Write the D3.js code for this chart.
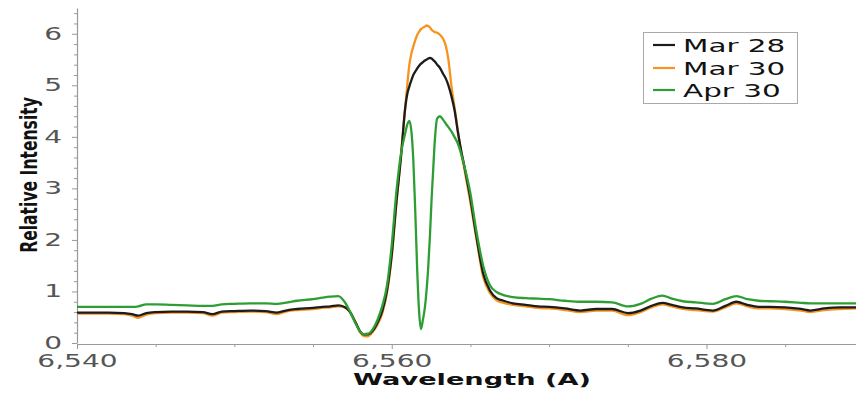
<!DOCTYPE html>
<html>
<head>
<meta charset="utf-8">
<script src="https://cdn.jsdelivr.net/npm/d3@7"></script>
<style>
  html, body { margin: 0; padding: 0; background: #fff; }
  svg { display: block; }
</style>
</head>
<body>
<svg id="chart" width="856" height="394"></svg>
<script>
// H-alpha profile, wavelength in Angstrom, shared sampling grid
const wavelength = [
  6540, 6541, 6542, 6543, 6543.5, 6543.9, 6544.4, 6545, 6546, 6547, 6548, 6548.6, 6549.2,
  6550, 6551, 6552, 6552.7, 6553.4, 6554, 6555, 6555.6, 6556.1, 6556.6, 6557.0, 6557.3,
  6557.7, 6558.0, 6558.2, 6558.5, 6558.8, 6559.1, 6559.4, 6559.7, 6560.0, 6560.3, 6560.6,
  6560.84, 6561.0, 6561.12, 6561.25, 6561.37, 6561.5, 6561.62, 6561.74, 6561.86, 6561.98,
  6562.11, 6562.22, 6562.32, 6562.43, 6562.53, 6562.64, 6562.74, 6562.89, 6563.06, 6563.27,
  6563.45, 6563.6, 6563.8, 6564.0, 6564.2, 6564.4, 6564.6, 6564.97, 6565.39, 6565.81,
  6566.24, 6566.66, 6567.1, 6567.7, 6568.5, 6569.3, 6570, 6571, 6572, 6573, 6574, 6575,
  6575.8, 6576.5, 6577.2, 6577.8, 6578.5, 6579.3, 6580.4, 6581.2, 6581.9, 6582.6, 6583.3,
  6584, 6585, 6586, 6586.6, 6587.5, 6588.5, 6589.5
];

const mar28 = [
  0.59, 0.59, 0.59, 0.58, 0.56, 0.53, 0.58, 0.60, 0.61, 0.61, 0.60, 0.56, 0.61,
  0.62, 0.63, 0.62, 0.59, 0.64, 0.66, 0.68, 0.70, 0.71, 0.73, 0.70, 0.62,
  0.40, 0.22, 0.17, 0.17, 0.24, 0.40, 0.62, 1.02, 1.72, 2.75, 3.65,
  4.52, 4.85, 4.98, 5.10, 5.20, 5.27, 5.33, 5.38, 5.42, 5.45,
  5.48, 5.50, 5.52, 5.53, 5.52, 5.49, 5.46, 5.40, 5.34, 5.22,
  5.12, 5.00, 4.78, 4.50, 4.10, 3.75, 3.45, 2.85, 2.05, 1.35,
  1.02, 0.87, 0.82, 0.77, 0.74, 0.71, 0.70, 0.67, 0.63, 0.66, 0.66, 0.58,
  0.63, 0.72, 0.78, 0.74, 0.69, 0.67, 0.63, 0.72, 0.80, 0.74, 0.70,
  0.70, 0.69, 0.66, 0.63, 0.67, 0.69, 0.69
];

const mar30 = [
  0.57, 0.57, 0.57, 0.56, 0.53, 0.49, 0.55, 0.58, 0.59, 0.59, 0.58, 0.53, 0.59,
  0.60, 0.61, 0.60, 0.56, 0.62, 0.64, 0.66, 0.68, 0.69, 0.71, 0.69, 0.62,
  0.40, 0.20, 0.14, 0.13, 0.22, 0.36, 0.58, 0.98, 1.68, 2.72, 3.70,
  4.52, 5.05, 5.40, 5.62, 5.75, 5.88, 5.98, 6.04, 6.09, 6.12,
  6.14, 6.16, 6.15, 6.12, 6.08, 6.05, 6.03, 6.02, 5.98, 5.90,
  5.75, 5.50, 4.97, 4.55, 4.12, 3.72, 3.40, 2.78, 2.00, 1.28,
  0.97, 0.83, 0.78, 0.74, 0.71, 0.68, 0.67, 0.64, 0.60, 0.63, 0.63, 0.54,
  0.60, 0.69, 0.75, 0.71, 0.66, 0.64, 0.61, 0.69, 0.77, 0.71, 0.67,
  0.67, 0.66, 0.63, 0.60, 0.64, 0.66, 0.67
];

const apr30 = [
  0.70, 0.70, 0.70, 0.70, 0.70, 0.71, 0.75, 0.75, 0.74, 0.73, 0.72, 0.72, 0.75,
  0.76, 0.77, 0.77, 0.76, 0.79, 0.82, 0.85, 0.88, 0.90, 0.91, 0.80, 0.64,
  0.38, 0.22, 0.17, 0.18, 0.27, 0.45, 0.72, 1.12, 1.90, 2.95, 3.70,
  4.05, 4.25, 4.31, 4.10, 3.55, 2.50, 1.40, 0.60, 0.27, 0.45,
  0.70, 1.05, 1.48, 2.10, 2.78, 3.40, 3.94, 4.36, 4.40, 4.33,
  4.25, 4.19, 4.10, 3.99, 3.87, 3.68, 3.45, 2.95, 2.15, 1.50,
  1.12, 0.99, 0.93, 0.89, 0.87, 0.86, 0.85, 0.82, 0.80, 0.80, 0.79, 0.71,
  0.76, 0.86, 0.92, 0.86, 0.81, 0.79, 0.76, 0.85, 0.91, 0.85, 0.82,
  0.81, 0.80, 0.78, 0.77, 0.77, 0.77, 0.77
];

const seriesNames = ["Mar 28", "Mar 30", "Apr 30"];
const seriesColors = ["#1c1c1c", "#f7931e", "#2e9e34"];
const yTicks = [0, 1, 2, 3, 4, 5, 6];
const xTicks = [6540, 6560, 6580];

const svg = d3.select("#chart");
const plotLeft = 77, plotRight = 856, plotTop = 8, plotBottom = 343;

const x = d3.scaleLinear().domain([6540, 6589.5]).range([plotLeft, plotRight]);
const y = d3.scaleLinear().domain([0, 6.5]).range([plotBottom, plotTop]);

const SX = 1.65; // wide lettering used throughout

svg.append("defs").append("clipPath").attr("id", "plot")
  .append("rect").attr("x", plotLeft).attr("y", 0)
  .attr("width", plotRight - plotLeft).attr("height", plotBottom + 1);

// minor ticks
const yMinor = d3.range(0, 6.41, 0.2).filter(v => Math.abs(v - Math.round(v)) > 1e-6);
const xMinor = d3.range(6540, 6590, 5).filter(v => v % 20 !== 0);

svg.append("g").attr("transform", `translate(${plotLeft},0)`)
  .call(d3.axisLeft(y).tickValues(yMinor).tickSize(3).tickFormat(""))
  .call(g => g.select(".domain").remove())
  .selectAll("line").attr("stroke", "#999");

svg.append("g").attr("transform", `translate(0,${plotBottom + 1})`)
  .call(d3.axisBottom(x).tickValues(xMinor).tickSize(3).tickFormat(""))
  .call(g => g.select(".domain").remove())
  .selectAll("line").attr("stroke", "#999");

// major y axis
const gy = svg.append("g").attr("transform", `translate(${plotLeft},0)`)
  .call(d3.axisLeft(y).tickValues(yTicks).tickSize(5).tickSizeOuter(0).tickFormat(d3.format("d")));
gy.select(".domain").attr("stroke", "#999").attr("stroke-width", 1.2);
gy.selectAll(".tick line").attr("stroke", "#999");
gy.selectAll(".tick text")
  .attr("font-family", "DejaVu Sans")
  .attr("font-size", 17)
  .attr("fill", "#555")
  .attr("x", -9)
  .attr("transform", `scale(${SX},1)`);

// major x axis
const gx = svg.append("g").attr("transform", `translate(0,${plotBottom + 1})`)
  .call(d3.axisBottom(x).tickValues(xTicks).tickSize(5).tickSizeOuter(0).tickFormat(d3.format(",")));
gx.select(".domain").attr("stroke", "#999").attr("stroke-width", 1.2);
gx.selectAll(".tick line").attr("stroke", "#999");
gx.selectAll(".tick text")
  .attr("font-family", "DejaVu Sans")
  .attr("font-size", 17)
  .attr("fill", "#555")
  .attr("y", 11)
  .attr("transform", `scale(${SX},1)`);

// spectra
const series = [mar28, mar30, apr30];
const line = d3.line()
  .x((d, i) => x(wavelength[i]))
  .y(d => y(d))
  .curve(d3.curveMonotoneX);

const plot = svg.append("g").attr("clip-path", "url(#plot)");
[1, 0, 2].forEach(k => {
  plot.append("path")
    .datum(series[k])
    .attr("fill", "none")
    .attr("stroke", seriesColors[k])
    .attr("stroke-width", 2.3)
    .attr("stroke-linejoin", "round")
    .attr("d", line);
});

// axis titles
svg.append("text")
  .attr("transform", `translate(472,385) scale(${SX},1)`)
  .attr("text-anchor", "middle")
  .attr("font-family", "DejaVu Sans")
  .attr("font-weight", "bold")
  .attr("font-size", 16.5)
  .attr("fill", "#111")
  .text("Wavelength (A)");

svg.append("text")
  .attr("transform", "translate(29,175) scale(1.5,1) rotate(-90)")
  .attr("text-anchor", "middle")
  .attr("dy", "0.36em")
  .attr("font-family", "DejaVu Sans")
  .attr("font-weight", "bold")
  .attr("font-size", 15.6)
  .attr("fill", "#111")
  .text("Relative Intensity");

// legend
const legend = svg.append("g");
legend.append("rect")
  .attr("x", 643.5).attr("y", 32.5).attr("width", 154).attr("height", 71)
  .attr("fill", "#fff").attr("stroke", "#aaa").attr("stroke-width", 1);
const rowY = [45, 68, 90];
seriesNames.forEach((name, i) => {
  legend.append("line")
    .attr("x1", 653).attr("x2", 675).attr("y1", rowY[i]).attr("y2", rowY[i])
    .attr("stroke", seriesColors[i]).attr("stroke-width", 2.2);
  legend.append("text")
    .attr("transform", `translate(683,${rowY[i] + 6.7}) scale(1.6,1)`)
    .attr("font-family", "DejaVu Sans")
    .attr("font-size", 18.4)
    .attr("fill", "#111")
    .text(name);
});
</script>
</body>
</html>
